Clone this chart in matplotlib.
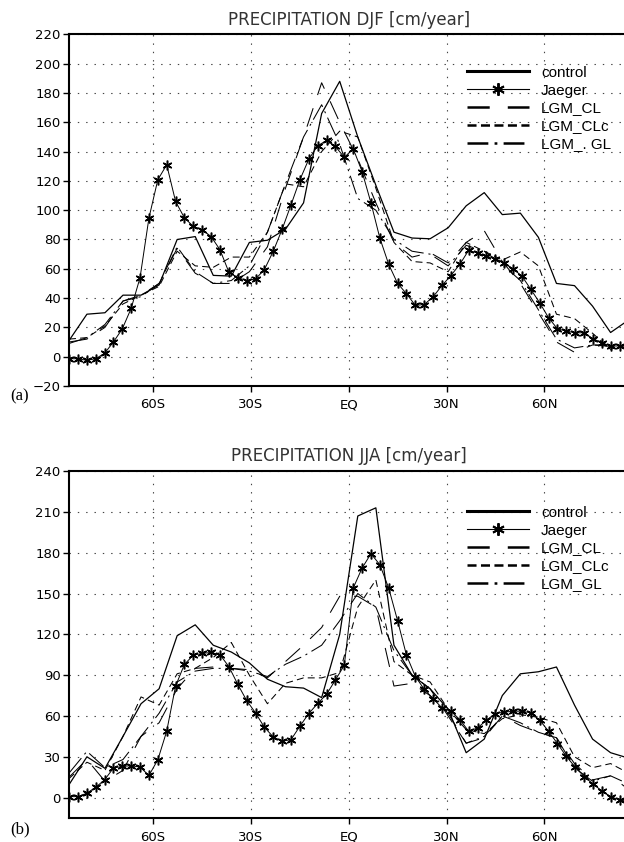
import numpy as np
import matplotlib
matplotlib.use('Agg')
import matplotlib.pyplot as plt
from matplotlib.lines import Line2D

plt.rcParams['lines.scale_dashes'] = False

# T21 gaussian latitudes (model output)
lat_model = [-85.76, -80.27, -74.74, -69.21, -63.68, -58.14, -52.61, -47.07,
             -41.54, -36.00, -30.47, -24.93, -19.40, -13.86, -8.31, -2.77,
             2.77, 8.31, 13.86, 19.40, 24.93, 30.47, 36.00, 41.54,
             47.07, 52.61, 58.14, 63.68, 69.21, 74.74, 80.27, 85.76]
# Jaeger climatology, 64 points over the same range
lat_jaeger = np.linspace(-85.76, 85.76, 64)

# DJF precipitation [cm/year]
ctl_djf = [11, 29, 30, 42, 42, 49, 80, 82, 55.5, 55, 78, 79.5, 87, 105, 166, 188,
           150, 117, 85, 81, 80.5, 88, 103, 112, 97, 98, 81.5, 50, 48.5, 34.5, 16.5, 25]
cl_djf = [10, 12, 20, 38, 42, 50, 74, 57, 50, 50, 58, 75, 115, 150, 187, 160,
          135, 105, 78, 68, 71, 64, 78, 86, 65, 50, 30, 10, 3, 8, 8, 7]
clc_djf = [12, 13, 21, 36, 42, 48, 72, 62, 61, 68, 68, 85, 118, 116, 140, 154,
           150, 115, 78, 65, 64, 58, 78, 72, 66, 71.5, 62, 29, 26, 16, 5, 9]
gl_djf = [9, 13, 22, 38, 41, 50, 75, 58, 50, 52, 62, 85, 118, 150, 172, 145,
          108, 100, 80, 72, 70, 62, 76, 72, 63, 52, 32, 12, 6, 8, 7, 7]
jae_djf = [-1.4, -1.4, -2.5, -1.4, 2.3, 10, 19, 33, 54, 94.7,
           120.8, 131, 106, 94.7, 89, 86.7, 82, 73, 57.7, 54,
           52, 53, 59.5, 72, 87, 103.7, 120.8, 134.8, 144, 147.6,
           143.5, 136, 142, 126.4, 105, 81, 63, 50, 43, 35,
           35.6, 40.9, 48.6, 55.4, 63, 72.6, 70.8, 68.6, 67, 64,
           60, 55, 46, 36.8, 26.6, 19, 17.5, 16.3, 16.3, 12.3,
           9.5, 7.3, 7.3, 7.3]

# JJA precipitation [cm/year]
ctl_jja = [9.5, 30, 21.5, 45, 69, 80, 119, 127, 112, 107, 99, 87, 81.5, 80.5, 73.5, 120,
           207, 213, 112, 90, 80, 65, 33, 43, 75, 91, 92.5, 96, 68, 43, 33, 29]
cl_jja = [15, 28, 12, 20, 45, 55, 80, 95, 96, 95, 94, 88, 100, 112, 125, 148,
          148, 140, 82, 84, 75, 62, 40, 44, 60, 53, 48, 44, 25, 13, 16, 6]
clc_jja = [14, 26, 20, 45, 74, 68, 91, 95, 103, 114, 90, 69, 84, 88, 88, 92,
           140, 160, 100, 90, 85, 65, 50, 47, 58, 61, 59, 55, 30, 22, 25, 18]
gl_jja = [18, 34, 22, 28, 45, 62, 85, 93, 95, 95, 93, 89, 98, 104, 112, 130,
          150, 140, 108, 90, 80, 60, 40, 45, 60, 55, 48, 44, 22, 12, 16, 10]
jae_jja = [0.7, 0.7, 3.2, 7.6, 13, 21.7, 23, 23.4, 22.4, 16.3,
           27.8, 48.8, 82, 98, 104.7, 106, 106.7, 105, 96.3, 83.3,
           71.4, 62.3, 51.7, 44.6, 41.4, 42.6, 52.5, 61.8, 69.2, 75.9,
           86.5, 97.3, 154, 168.7, 179.3, 171.2, 154, 130, 104.7, 89,
           79.6, 72.7, 66, 63.5, 57.4, 48.8, 51.2, 56.9, 61.8, 62.8,
           63.5, 63.5, 62.3, 56.9, 48.8, 39.7, 30.3, 22.4, 15.5, 10.1,
           4.9, 0.7, -1.7, -2.5]

xticks = [-60, -30, 0, 30, 60]
xlabels = ['60S', '30S', 'EQ', '30N', '60N']

fig = plt.figure(figsize=(6.24, 8.42), dpi=100)

star = (6, 2, 0)
dash_cl = (14, 10)
dash_clc = (5, 3)
dash_gl = (14, 3.5, 1.5, 3.5)


def panel(rect, title, ctl, jae, cl, clc, gl, ylim, yticks, gl_name, leg_y):
    ax = fig.add_axes(rect)
    ax.plot(lat_model, ctl, color='k', lw=0.9)
    ax.plot(lat_jaeger, jae, color='k', lw=0.7, marker=star, ms=7, mew=1.1)
    ax.plot(lat_model, cl, color='k', lw=0.75, dashes=dash_cl)
    ax.plot(lat_model, clc, color='k', lw=0.75, dashes=dash_clc)
    ax.plot(lat_model, gl, color='k', lw=0.75, dashes=dash_gl)

    ax.set_xlim(-85.76, 85.76)
    ax.set_ylim(*ylim)
    ax.set_xticks(xticks)
    ax.set_xticklabels(xlabels)
    ax.set_yticks(yticks)
    ax.grid(True, color='#444444', lw=0.8, linestyle=(0, (1, 5)))
    ax.tick_params(axis='both', direction='out', length=4, width=1,
                   labelsize=9.5)
    ax.tick_params(axis='x', pad=5)
    ax.tick_params(axis='y', pad=2)
    for s in ax.spines.values():
        s.set_linewidth(1.5)
    ax.set_title(title, fontsize=12, pad=7, color='#333333')

    handles = [
        Line2D([], [], color='k', lw=2.2),
        Line2D([], [], color='k', lw=0.8, marker=star, ms=9, mew=1.4),
        Line2D([], [], color='k', lw=1.8, dashes=(16, 13)),
        Line2D([], [], color='k', lw=1.8, dashes=(6.5, 3.2)),
        Line2D([], [], color='k', lw=1.8, dashes=(15, 4.5, 2, 4.5)),
    ]
    labels = ['control', 'Jaeger', 'LGM_CL', 'LGM_CLc', gl_name]
    ax.legend(handles, labels, loc='upper left', bbox_to_anchor=(0.711, leg_y),
              frameon=False, numpoints=1, handlelength=4.1, handletextpad=0.75,
              labelspacing=0.25, borderpad=0, borderaxespad=0,
              prop={'family': 'Liberation Sans', 'size': 11})
    return ax


panel([0.1106, 0.5416, 0.8966, 0.4175], 'PRECIPITATION DJF [cm/year]',
      ctl_djf, jae_djf, cl_djf, clc_djf, gl_djf,
      (-20, 220), list(range(-20, 221, 20)), 'LGM_. GL', 0.911)
panel([0.1106, 0.0285, 0.8966, 0.412], 'PRECIPITATION JJA [cm/year]',
      ctl_jja, jae_jja, cl_jja, clc_jja, gl_jja,
      (-15, 240), list(range(0, 241, 30)), 'LGM_GL', 0.90)

fig.text(20 / 624, 1 - 396 / 842, '(a)', family='Liberation Serif', fontsize=12,
         ha='center', va='center')
fig.text(20 / 624, 1 - 829 / 842, '(b)', family='Liberation Serif', fontsize=12,
         ha='center', va='center')

fig.savefig('out.png', dpi=100)
